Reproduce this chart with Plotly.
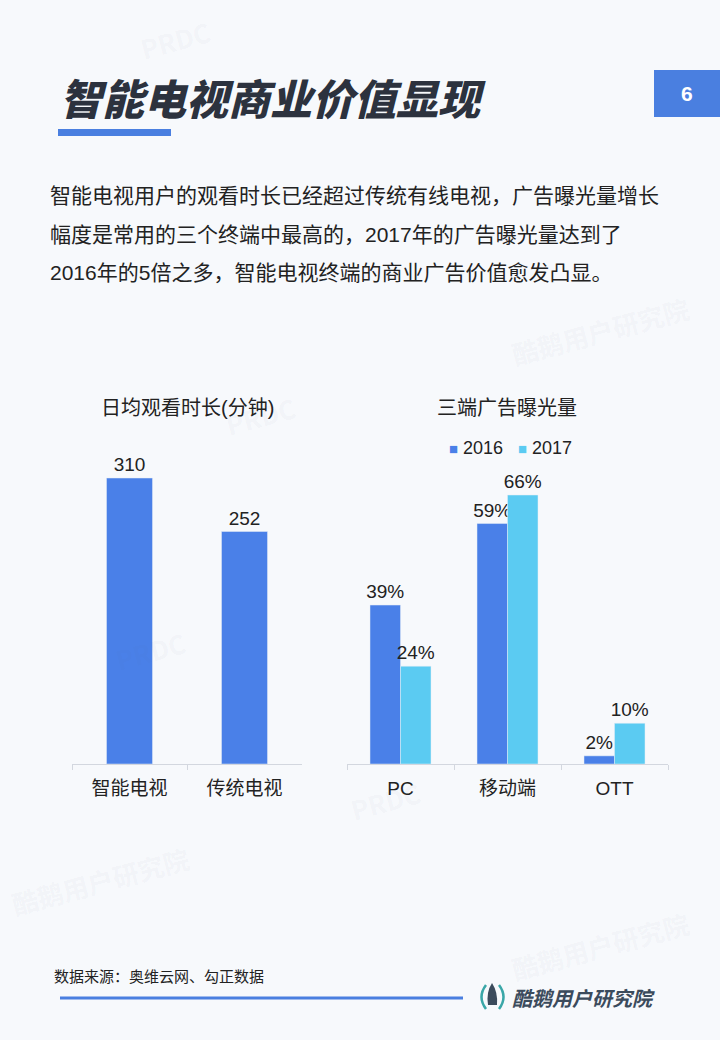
import plotly.graph_objects as go

# data
watch_categories = ["智能电视", "传统电视"]
watch_minutes = [310, 252]

ad_categories = ["PC", "移动端", "OTT"]
ad_2016 = [39, 59, 2]
ad_2017 = [24, 66, 10]
years = ["2016", "2017"]

heading = "智能电视商业价值显现"
page_no = "6"
body_lines = [
    "智能电视用户的观看时长已经超过传统有线电视，广告曝光量增长",
    "幅度是常用的三个终端中最高的，2017年的广告曝光量达到了",
    "2016年的5倍之多，智能电视终端的商业广告价值愈发凸显。",
]
source = "数据来源：奥维云网、勾正数据"
brand = "酷鹅用户研究院"

W, H = 720, 1040
BG = "#f7f9fc"
BLUE = "#4a80e8"
CYAN = "#5bcbf2"
INK = "#222222"
FONT = "Liberation Sans, Noto Sans CJK SC, sans-serif"


def px(x):
    return x / W


def py(y):
    return 1 - y / H


base_y = 764
top_y = 380

fig = go.Figure()
fig.add_trace(go.Bar(
    x=watch_categories, y=watch_minutes, xaxis="x", yaxis="y",
    width=0.4, marker_color=BLUE, showlegend=False,
    texttemplate="%{y}", textposition="outside", cliponaxis=False, constraintext="none",
    textfont=dict(size=19, color=INK),
))
for name, vals, color in zip(years, [ad_2016, ad_2017], [BLUE, CYAN]):
    fig.add_trace(go.Bar(
        x=ad_categories, y=vals, name=name, xaxis="x2", yaxis="y2",
        marker_color=color, texttemplate="%{y}%", textposition="outside",
        cliponaxis=False, constraintext="none", textfont=dict(size=19, color=INK),
    ))

axis_common = dict(
    type="category", showline=True, linecolor="#d3d7df", linewidth=1,
    ticks="outside", tickson="boundaries", ticklen=5, tickcolor="#d3d7df",
    tickfont=dict(size=19, color=INK, family=FONT), showgrid=False,
    ticklabelstandoff=7, fixedrange=True,
)
ydom = [py(base_y), py(top_y)]

fig.update_layout(
    width=W, height=H, margin=dict(l=0, r=0, t=0, b=0),
    paper_bgcolor=BG, plot_bgcolor=BG,
    font=dict(family=FONT, color=INK),
    barmode="group", bargap=0.43, bargroupgap=0,
    xaxis=dict(domain=[px(72), px(302)], anchor="y", **axis_common),
    yaxis=dict(domain=ydom, range=[0, (base_y - top_y) / (286 / 310)], visible=False, fixedrange=True),
    xaxis2=dict(domain=[px(347), px(668)], anchor="y2", **axis_common),
    yaxis2=dict(domain=ydom, range=[0, (base_y - top_y) / (269 / 66)], visible=False, fixedrange=True),
    showlegend=False,
)


def note(x, y, text, size, xanchor="center", **font):
    return dict(x=px(x), y=py(y), xref="paper", yref="paper", xanchor=xanchor, yanchor="middle",
                showarrow=False, text=text, font=dict(size=size, **font))


ann = []
# faint watermarks
for x, y, t in [(175, 40, "PRDC"), (260, 415, "PRDC"), (150, 650, "PRDC"), (385, 800, "PRDC"),
                (600, 330, brand), (100, 880, brand), (600, 945, brand)]:
    a = note(x, y, t, 26, color="rgba(90,110,140,0.05)", family="Noto Sans CJK SC", weight=700)
    a["textangle"] = -15
    ann.append(a)

ann += [
    note(58, 96, heading, 42, "left", color="#2c323e", family="Noto Sans CJK SC",
         weight=900, style="italic"),
    note(687, 93, page_no, 21, color="white", family=FONT, weight=700),
    note(187, 408, "日均观看时长(分钟)", 20, color=INK),
    note(507, 408, "三端广告曝光量", 20, color=INK),
    note(52, 976, source, 15, "left", color=INK),
    note(510, 997, brand, 20, "left", color="#3b4b5c", family="Noto Sans CJK SC",
         weight=700, style="italic"),
]
for line, y in zip(body_lines, [195, 235, 273]):
    ann.append(note(48, y, line, 21, "left", color=INK))

# legend for the right chart
for name, color, x in zip(years, [BLUE, CYAN], [447, 516]):
    ann.append(note(x, 448, f"<span style='color:{color};font-size:15px'>■</span> {name}",
                    18, "left", color=INK))

shapes = [
    dict(type="rect", xref="paper", yref="paper", x0=px(58), x1=px(171), y0=py(136), y1=py(129),
         fillcolor="#4a7fe0", line_width=0),
    dict(type="rect", xref="paper", yref="paper", x0=px(654), x1=px(720), y0=py(117), y1=py(70),
         fillcolor="#4a7fe0", line_width=0),
    dict(type="line", xref="paper", yref="paper", x0=px(60), x1=px(463), y0=py(998), y1=py(998),
         line=dict(color="#4a7fe0", width=3)),
]


def path(points):
    # points in pixels -> svg path in paper units
    out = []
    for cmd, coords in points:
        out.append(cmd + " " + " ".join(
            f"{px(coords[i]):.5f},{py(coords[i + 1]):.5f}" for i in range(0, len(coords), 2)))
    return " ".join(out)


# small logo mark next to the brand name
shapes += [
    dict(type="path", xref="paper", yref="paper", line=dict(color="#3aa7a8", width=2.5),
         path=path([("M", (486, 985)), ("Q", (477, 997, 486, 1009))])),
    dict(type="path", xref="paper", yref="paper", line=dict(color="#3aa7a8", width=2.5),
         path=path([("M", (499, 985)), ("Q", (508, 997, 499, 1009))])),
    dict(type="path", xref="paper", yref="paper", fillcolor="#3b4b5c", line_width=0,
         path=path([("M", (492, 983)), ("Q", (486, 992, 488, 1005)), ("L", (497, 1005)),
                    ("Q", (498, 992, 492, 983)), ("Z", ())])),
]

fig.update_layout(annotations=ann, shapes=shapes)
fig.write_html("out.html", config={"displayModeBar": False},
               post_script="document.body.style.margin='0';")
